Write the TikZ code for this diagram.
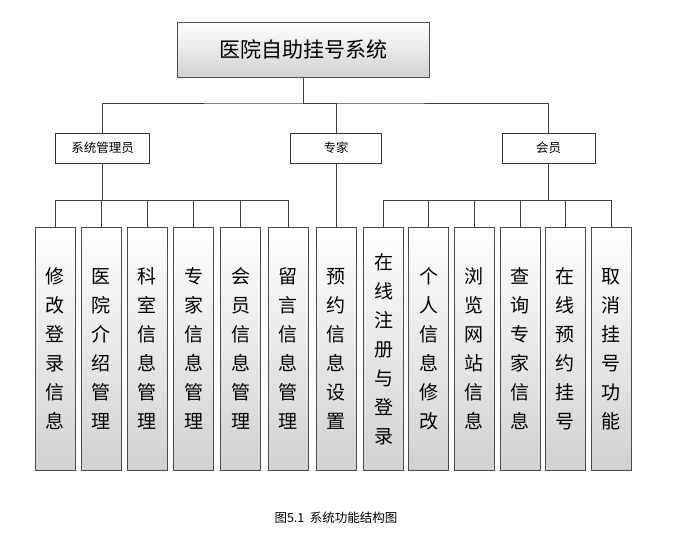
\documentclass[tikz,border=0pt]{standalone}
\usepackage{fontspec}
\newfontfamily\cjk{Noto Sans CJK SC}
\begin{document}
\begin{tikzpicture}[x=1pt,y=-1pt,
  shadowed/.style={draw=black!70,line width=0.6pt,top color=white,bottom color=black!18},
  midbox/.style={draw=black!80,line width=0.6pt,fill=white,minimum width=94pt,minimum height=30pt,font=\cjk\fontsize{12.5}{14}\selectfont},
  leaf/.style={shadowed,minimum width=40pt,minimum height=243pt,anchor=north,inner sep=1pt,font=\cjk\fontsize{19}{29}\selectfont,align=center},
  conn/.style={black!75,line width=0.7pt}]
\useasboundingbox (0,0) rectangle (673,554);
\node[shadowed,minimum width=252pt,minimum height=55pt,font=\cjk\fontsize{21}{24}\selectfont] (top) at (303,49.5) {医院自助挂号系统};
\node[midbox] (adm) at (102.5,148) {系统管理员};
\node[midbox,minimum width=91pt] (exp) at (336,148) {专家};
\node[midbox,minimum width=93pt] (mem) at (548.5,148) {会员};
\coordinate (j1) at (303,103);
\draw[conn] (top.south) -- (j1);
\draw[conn] (adm.north) |- (j1) -| (mem.north);
\draw[conn] (j1) -| (exp.north);
\foreach \n/\x/\t in {a1/55/修\\改\\登\\录\\信\\息,a2/101/医\\院\\介\\绍\\管\\理,a3/147/科\\室\\信\\息\\管\\理,a4/193.5/专\\家\\信\\息\\管\\理,a5/240.5/会\\员\\信\\息\\管\\理,a6/288/留\\言\\信\\息\\管\\理,e1/336/预\\约\\信\\息\\设\\置,m1/383.5/在\\线\\注\\册\\与\\登\\录,m2/428.5/个\\人\\信\\息\\修\\改,m3/474/浏\\览\\网\\站\\信\\息,m4/520/查\\询\\专\\家\\信\\息,m5/565/在\\线\\预\\约\\挂\\号,m6/611/取\\消\\挂\\号\\功\\能}{
  \node[leaf] (\n) at (\x,227) {\t};
}
\draw[conn] (adm.south) -- (102.5,200);
\draw[conn] (a1.north) |- (a6.north|-0,200) -- (a6.north);
\foreach \n in {a2,a3,a4,a5}{\draw[conn] (\n.north) -- (\n.north|-0,200);}
\draw[conn] (exp.south) -- (e1.north);
\draw[conn] (mem.south) -- (548.5,200);
\draw[conn] (m1.north) |- (m6.north|-0,200) -- (m6.north);
\foreach \n in {m2,m3,m4,m5}{\draw[conn] (\n.north) -- (\n.north|-0,200);}
\node[font=\cjk\fontsize{12.5}{14}\selectfont] (cap) at (336,518) {图5.1\ \ 系统功能结构图};
\end{tikzpicture}
\end{document}
